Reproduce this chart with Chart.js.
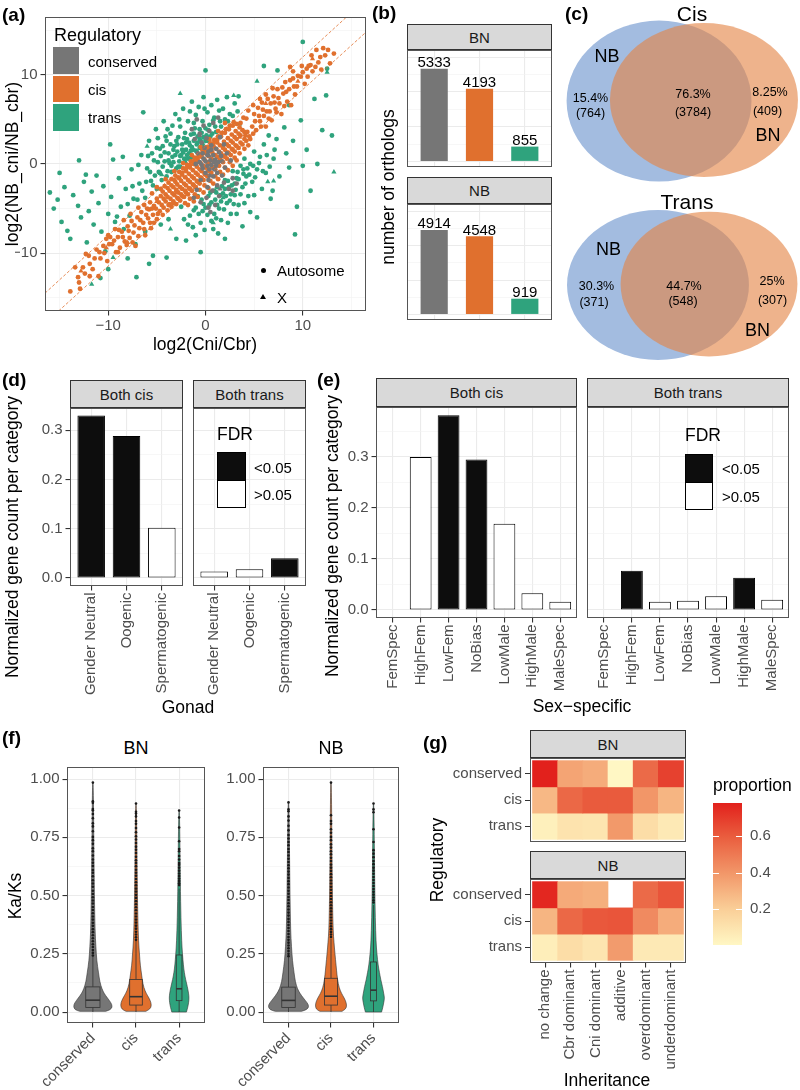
<!DOCTYPE html>
<html>
<head>
<meta charset="utf-8">
<script src="https://cdn.jsdelivr.net/npm/chart.js@4/dist/chart.umd.min.js"></script>
<style>
html, body { margin: 0; padding: 0; background: #fff; }
#fig { position: relative; width: 800px; height: 1090px; overflow: hidden; font-family: 'Liberation Sans', Arial, Helvetica, sans-serif; }
#fig canvas { position: absolute; }
.t { position: absolute; white-space: nowrap; line-height: 1; color: #000; }
.strip { position: absolute; box-sizing: border-box; background: #D9D9D9; border: 1px solid #333; color: #1A1A1A; font-size: 15px; display: flex; align-items: center; justify-content: center; }
.key { position: absolute; box-sizing: border-box; }
</style>
</head>
<body>
<div id="fig"></div>
<script>
// ---------- data ----------

// (a) log2(Cni/Cbr) vs log2(NB_cni/NB_cbr), [x, y]
const conservedAuto = [[0.2,-0.2],[0.5,0.4],[-0.2,0.6],[0.8,1.0],[0.3,1.4],[1.1,1.7],[0.6,2.1],[-0.3,-0.5],[0.0,-1.0],[0.4,-1.3],[0.9,-0.6],[1.3,0.2],[1.6,0.9],[-0.6,0.2],[-0.8,1.2],[-0.4,2.4],[0.1,2.9],[-0.6,3.4],[-0.2,4.3],[0.4,3.7],[-1.1,2.8],[-1.4,3.9],[0.8,4.6],[1.5,3.0],[1.9,2.2],[2.2,1.2],[2.0,-0.4],[1.7,-1.3],[1.9,-2.1],[1.2,-2.4],[0.7,-3.0],[0.2,-2.6],[-0.5,-1.8],[-0.9,-2.9],[-0.5,-4.3],[0.1,-3.8],[0.5,-5.4],[1.0,-4.6],[1.4,-3.6],[2.4,-2.8],[2.8,-1.6],[-1.2,-3.8],[0.3,-4.9],[-0.1,1.8],[1.0,0.5],[0.6,-0.1],[-1.0,0.0],[2.6,0.4],[1.3,5.2],[-0.9,5.0],[1.2,-1.0],[2.8,-3.0],[3.2,-2.2],
  [0.0,0.3],[0.4,-0.6],[0.9,0.2],[1.4,1.3],[0.2,1.0],[-0.4,-0.1],[1.1,-0.2],[0.6,1.6],[-0.3,1.2],[1.7,0.3],[0.3,-1.8],[0.8,-1.4]];
const cisAuto = [[-5.0,-6.2],[-5.8,-5.1],[-6.3,-4.6],[-4.4,-5.7],[-5.1,-5.0],[-5.7,-4.3],[-4.9,-5.6],[-3.9,-5.2],[-4.5,-4.6],[-5.0,-3.9],[-5.5,-3.3],[-3.5,-4.8],[-4.1,-4.2],[-4.6,-3.6],[-3.7,-4.5],[-3.0,-4.5],[-3.6,-3.9],[-4.1,-3.4],[-4.6,-2.8],[-3.3,-4.2],[-2.6,-4.1],[-3.2,-3.5],[-3.7,-3.0],[-4.2,-2.5],[-2.9,-3.8],[-2.2,-3.7],[-2.8,-3.2],[-3.3,-2.6],[-3.8,-2.1],[-2.5,-3.4],[-3.0,-2.9],[-1.8,-3.4],[-2.4,-2.8],[-2.9,-2.3],[-3.5,-1.7],[-2.1,-3.0],[-3.1,-2.0],[-1.4,-3.0],[-2.0,-2.4],[-2.5,-1.9],[-3.1,-1.3],[-1.7,-2.7],[-2.7,-1.6],[-1.0,-2.6],[-1.6,-2.0],[-2.1,-1.5],[-2.7,-0.9],[-1.3,-2.3],[-2.4,-1.2],[-0.6,-2.2],[-1.2,-1.6],[-1.7,-1.1],[-2.3,-0.5],[-0.9,-1.9],[-2.0,-0.8],[-0.2,-1.8],[-0.8,-1.2],[-1.3,-0.7],[-1.9,-0.1],[-0.5,-1.5],[-1.6,-0.4],[0.2,-1.4],[-0.4,-0.8],[-0.9,-0.3],[-1.5,0.3],[-0.1,-1.1],[-1.2,0.0],[0.6,-1.0],[0.0,-0.4],[-0.5,0.1],[-1.1,0.7],[0.3,-0.7],[-0.8,0.4],[1.0,-0.6],[0.4,0.0],[-0.1,0.5],[-0.7,1.1],[0.7,-0.3],[-0.4,0.8],[1.4,-0.2],[0.8,0.4],[0.3,0.9],[-0.3,1.5],[1.1,0.1],[0.0,1.2],[1.8,0.2],[1.2,0.8],[0.7,1.3],[0.1,1.9],[1.5,0.5],[0.4,1.6],[2.2,0.6],[1.6,1.2],[1.1,1.7],[0.5,2.3],[1.9,0.9],[0.8,2.0],[2.6,1.0],[2.0,1.6],[1.5,2.1],[0.9,2.7],[2.3,1.3],[1.2,2.4],[3.0,1.4],[2.4,2.0],[1.9,2.5],[1.3,3.1],[2.7,1.7],[3.4,1.8],[2.8,2.4],[2.3,2.9],[1.7,3.5],[3.1,2.1],[3.8,2.2],[3.2,2.8],[2.7,3.3],[2.1,3.9],[4.2,2.6],[3.6,3.2],[3.1,3.7],[2.5,4.3],[4.5,3.1],[4.0,3.6],[3.5,4.1],[2.9,4.7],
  [-2.1,-4.4],[-1.8,-4.6],[-1.6,-3.9],[-1.2,-4.2],[-1.1,-3.4],[-0.8,-3.7],[-0.6,-2.9],[-0.2,-3.2],[-0.1,-2.4],[0.3,-2.7],[0.5,-1.9],[0.8,-2.2],[1.0,-1.4],[1.3,-1.7],[1.5,-0.9],[1.8,-1.2],[2.0,-0.4],[2.3,-0.7],[2.5,0.2],[2.8,-0.2],[3.0,0.7],[3.2,0.4],[3.5,1.2],[4.0,1.7],[4.4,2.1],
  [-4.1,-1.7],[-3.2,-0.8],[-2.3,0.1],[-1.4,1.0],[-0.5,1.9],[0.4,2.8],[1.3,3.7],[-5.0,-2.6],[2.0,4.6],
  [-4.7,-5.3],[-5.3,-4.7],[-4.3,-4.9],[-4.8,-4.3],[-3.8,-4.6],[-4.3,-3.9],[-3.3,-4.4],[-3.9,-3.7],[-4.4,-3.1],[-2.8,-3.9],[-3.4,-3.3],[-3.9,-2.7],[-2.4,-3.6],[-3.0,-3.1],[-3.5,-2.4],[-2.0,-3.2],[-2.6,-2.6],[-3.2,-1.8],[-1.6,-2.8],[-2.2,-2.2],[-2.8,-1.5],[-1.2,-2.4],[-1.8,-1.8],[-2.4,-1.0],[-0.8,-2.0],[-1.4,-1.4],[-2.0,-0.5],[-0.4,-1.6],[-1.0,-1.0],[-1.6,-0.1],[0.0,-1.2],[-0.6,-0.6],[-1.2,0.3],[0.4,-0.8],[-0.2,-0.2],[-0.8,0.7],[0.8,-0.4],[0.2,0.2],[-0.4,1.1],[1.2,0.0],[0.6,0.6],[0.0,1.5],[1.6,0.4],[1.0,1.0],[0.4,1.9],[2.0,0.8],[1.4,1.4],[0.8,2.3],[2.4,1.2],[1.8,1.8],[1.2,2.7],[2.8,1.6],[2.2,2.2],[1.6,3.1],[3.2,2.0],[2.6,2.6],[2.0,3.5],[3.6,2.4],[3.0,3.0],[2.4,3.9],[4.0,2.8],[3.4,3.4],[2.8,4.3],[3.8,3.8],[3.2,4.5],[4.3,3.6],
  [-9.6,-9.0],[-9.2,-9.9],[-9.0,-8.2],[-8.8,-9.4],[-8.6,-7.6],[-8.3,-8.7],[-8.0,-7.0],[-7.8,-8.3],[-7.6,-6.4],[-7.4,-7.7],[-7.2,-9.2],[-7.0,-6.0],[-6.8,-7.2],[-6.6,-5.4],[-6.4,-6.6],[-6.2,-8.0],[-6.0,-5.0],[-5.9,-6.1],[-5.6,-7.2],[-5.4,-5.7],[-6.9,-4.9],[-7.7,-5.6],[-8.4,-6.3],[-9.3,-7.3],[-10.0,-8.0],
  [-9.8,-8.2],[-9.4,-8.6],[-8.9,-7.4],[-8.5,-8.2],[-8.1,-9.1],[-7.9,-7.5],[-7.5,-8.8],[-7.3,-6.9],[-6.9,-8.1],[-6.7,-6.3],[-6.3,-7.3],[-6.1,-5.7],[-5.7,-6.6],[-5.5,-5.0],[-5.3,-6.6],[-10.4,-10.0],[-10.9,-9.9],[-11.4,-10.6],[-11.9,-11.2],[-12.4,-12.3],[-13.0,-13.3],[-10.2,-8.4],[-9.0,-9.9],
  [4.8,4.2],[5.0,5.6],[5.2,3.8],[5.4,6.3],[5.6,4.8],[5.8,6.9],[6.0,5.4],[6.2,4.2],[6.4,7.3],[6.6,5.9],[6.8,4.9],[7.0,7.6],[7.2,6.2],[7.4,8.4],[7.6,6.8],[7.8,5.6],[8.0,7.9],[8.2,9.2],[8.4,7.0],[8.6,8.4],[8.8,6.6],[9.0,9.6],[9.2,7.8],[4.4,6.0],[3.9,5.2],[4.6,2.8],[3.6,4.6],[4.1,3.2],
  [5.1,4.8],[5.5,5.4],[5.9,6.1],[6.3,5.9],[6.7,6.8],[7.1,6.9],[7.5,7.4],[7.9,8.6],[8.3,8.1],[8.7,9.4],[9.1,8.7],[9.5,9.9],[10.0,10.3],[10.4,10.7],[10.8,11.1],[11.3,10.9],[11.8,12.0],[12.6,12.8],[4.9,3.4],[5.7,4.2],[6.5,5.1],[7.3,5.8],[8.1,6.5],[4.2,5.1],[4.9,6.6],[5.6,7.3],[6.2,7.8],[6.9,8.5],
  [-13.9,-14.3],[-13.1,-12.7],[-12.6,-11.6],[-12.0,-10.3],[-11.6,-11.8],[-11.2,-9.6],[-10.8,-10.6],[-10.5,-9.2],[-10.1,-10.9],[-12.9,-14.0],[-11.9,-12.6],[-13.4,-11.6],[-9.9,-9.0],[-11.0,-12.6],[-12.3,-10.1],
  [13.2,12.4],[12.3,12.2],[11.6,11.4],[11.0,10.4],[10.6,11.0],[10.2,9.0],[9.8,9.8],[9.4,8.7],[12.8,11.3],[11.9,10.6],[10.9,12.2],[9.9,11.0],[12.1,13.0],[10.5,9.8],[11.4,12.8],[9.0,10.4],[8.7,10.9]];
const transAuto = [[-16.0,-3.2],[-15.6,-5.0],[-15.2,-4.0],[-14.8,-6.5],[-14.5,-2.6],[-14.2,-7.5],[-13.9,-8.4],[-13.6,-3.5],[-13.1,-4.7],[-12.8,-6.0],[-12.5,-2.0],[-12.2,-8.8],[-12.0,-5.3],[-11.7,-3.1],[-11.5,-6.8],[-11.2,-1.3],[-11.0,-4.4],[-10.7,-7.6],[-10.5,-2.5],[-10.3,-9.8],[-10.0,-11.8],[-10.0,-5.6],[-9.7,-3.7],[-9.5,0.5],[-9.3,-6.5],[-9.1,-5.9],[-8.9,-1.6],[-8.7,-4.8],[-8.4,-7.3],[-8.2,-2.8],[-8.0,-10.6],[-7.8,-5.8],[-7.6,-0.6],[-7.4,-3.9],[-7.2,-9.0],[-7.1,-12.7],[-10.8,-12.8],[-12.3,-1.2],[-13.0,0.4],[-15.0,-1.0],[-9.8,2.2],[-8.5,0.8],
  [-6.8,-2.2],[-6.6,1.0],[-6.4,5.8],[-6.2,-3.8],[-6.0,-0.5],[-5.8,2.6],[-5.6,-1.9],[-5.4,-10.3],[-5.3,0.4],[-5.1,3.9],[-5.0,-2.8],[-4.8,-0.9],[-4.7,1.7],[-4.5,-1.8],[-4.3,4.8],[-4.2,0.3],[-4.0,-10.5],[-4.0,2.6],[-3.9,-0.8],[-3.8,1.2],[-3.6,3.4],[-3.5,-0.2],[-3.4,0.8],[-3.2,2.0],[-3.1,5.6],[-3.0,-0.5],[-2.9,1.4],[-2.8,3.0],[-2.7,0.3],[-2.6,4.2],[-2.5,1.0],[-2.4,2.2],[-2.3,6.2],[-2.2,0.6],[-2.1,3.5],[-2.0,1.6],[-1.9,2.8],[-1.8,4.8],[-1.7,1.2],[-1.6,2.1],[-1.5,3.3],[-1.4,7.0],[-1.3,1.6],[-1.2,2.6],[-1.1,4.0],[-1.0,5.5],[-0.9,2.2],[-0.8,3.1],[-0.7,6.4],[-0.6,1.8],[-0.5,2.6],[-0.4,3.5],[-0.3,4.8],[-0.2,7.5],[0.0,10.5],[0.1,3.2],[0.2,5.8],[0.4,4.4],[0.6,6.6],[0.9,5.2],[1.2,7.2],[1.5,4.8],[1.8,6.2],[2.2,7.5],[2.5,5.6],[3.0,6.8],[3.4,7.6],[-3.8,-6.2],[-2.0,-8.6],
  [-4.6,0.9],[-4.4,2.0],[-3.7,0.1],[-3.3,1.6],[-3.0,2.6],[-2.6,-0.3],[-2.3,1.3],[-2.0,2.4],[-1.8,0.6],[-1.5,1.5],[-1.2,3.4],[-0.9,1.4],[-0.6,2.8],[-0.3,2.2],[0.0,2.6],[0.3,3.8],[0.7,3.4],[1.0,4.2],[-5.5,1.2],[-4.9,2.9],[-2.7,5.0],[-3.9,3.9],[-1.6,5.9],[-0.1,6.2],[1.4,6.0],[2.0,5.0],
  [-6.5,-3.0],[-6.1,-2.0],[-5.7,-0.9],[-5.4,-2.4],[-5.2,-1.3],[-4.9,0.2],[-4.7,-1.0],[-4.4,-0.3],[-4.2,1.3],[-4.0,-1.4],[-3.8,0.4],[-3.6,2.2],[-3.5,-0.9],[-3.3,0.2],[-3.1,1.0],[-2.9,2.2],[-2.8,-0.3],[-2.6,0.9],[-2.4,1.6],[-2.2,2.9],[-2.1,0.2],[-1.9,1.0],[-1.7,2.4],[-1.5,0.7],[-1.4,1.9],[-1.2,4.6],[-1.0,1.5],[-0.8,2.4],[-0.6,3.9],[-0.4,2.0],[-0.2,3.0],[0.0,4.0],[0.2,2.6],[0.5,3.1],[0.8,4.9],[1.1,3.6],[1.6,4.2],[2.3,4.8],[2.8,5.4],[3.3,5.9],[-7.0,-4.0],[-7.5,-2.5],[-8.0,-4.5],[-6.9,-0.1],[-5.9,0.9],[-5.0,1.8],[-4.1,3.1],[-3.4,4.3],
  [-1.2,-5.2],[-0.8,-3.6],[-0.5,-6.6],[-0.5,-9.9],[-0.2,-4.5],[0.2,-5.7],[0.5,-3.2],[0.8,-7.3],[1.0,-4.0],[1.2,-2.6],[1.4,-5.0],[1.6,-6.3],[1.8,-3.3],[2.0,-1.8],[2.2,-4.4],[2.4,-2.6],[2.6,-5.6],[2.8,-0.8],[3.0,-3.5],[3.2,-1.6],[3.4,-4.6],[3.6,-0.2],[3.8,-2.6],[4.0,0.6],[4.2,-1.4],[4.4,-3.6],[4.6,0.0],[4.8,-2.0],[5.0,1.4],[5.3,-6.0],[5.3,-0.6],[5.6,0.8],[5.8,-2.8],[6.0,2.2],[6.2,-1.0],[6.5,3.2],[6.7,-3.9],[6.9,-3.0],[7.0,0.6],[7.3,2.8],[7.6,-1.4],[8.1,4.1],[8.3,1.2],[8.6,-0.4],[9.0,2.6],[9.4,-4.8],[9.8,4.9],[10.0,-0.2],[10.4,1.6],[10.8,-3.0],[11.2,7.3],[11.5,0.0],[12.0,3.8],[12.4,7.7],[12.5,10.7],[7.4,10.5],[6.0,11.0],[8.6,6.6],[9.2,-7.9],[13.0,3.2],[-1.8,-6.8],[-3.0,-8.4],[-2.5,-4.8],[-4.6,-6.8],[-6.2,-7.6],[-5.8,-11.2],[3.8,-7.0],[2.0,-8.4],[4.6,-5.4],[10.0,13.7],
  [0.4,-4.6],[1.1,-3.2],[1.6,-4.2],[2.0,-2.8],[2.6,-3.4],[3.0,-2.2],[3.3,-0.9],[0.9,-5.6],[1.9,-5.1],[2.9,-4.5],[3.9,-1.1],[4.3,-0.5],[-0.3,-5.3],[0.6,-6.4],[1.3,-7.8],[-1.0,-8.0],
  [-1.6,-5.8],[-1.0,-4.9],[-0.7,-5.6],[-0.4,-4.0],[0.0,-4.9],[0.3,-3.6],[0.6,-4.3],[0.9,-3.0],[1.2,-4.6],[1.5,-3.5],[1.7,-2.5],[2.1,-3.6],[2.3,-1.9],[2.5,-4.1],[2.7,-2.4],[3.1,-2.9],[3.4,-1.7],[3.6,-3.4],[3.9,-0.6],[4.1,-2.2],[4.5,-1.2],[4.9,-0.2],[5.1,-1.5],[5.5,0.1],[5.9,-0.8],[6.3,1.0],[6.6,-0.3],[7.1,1.6],[-0.1,-7.4],[1.1,-6.1],[2.3,-6.6],[3.2,-5.6],[4.0,-4.4],[5.0,-3.5],[-2.2,-6.2],[-1.3,-7.1]];
const conservedX = [[0.4,0.9],[-0.6,3.2],[1.5,-2.8]];
const cisX = [[-12.8,-12.0],[-8.0,-8.8],[-5.0,-4.2],[-2.0,-1.5],[1.0,1.8],[3.5,3.0],[6.2,6.8],[9.5,9.3],[11.0,11.8],[-10.2,-9.4]];
const transX = [[-2.6,7.9],[5.3,9.3],[2.9,7.7],[-3.6,-7.3],[0.8,-6.6],[-11.7,-13.5],[12.5,10.3],[13.2,-0.9],[7.0,-1.9],[-6.0,2.0],[-4.5,-1.2],[1.8,-3.8],[-9.5,-10.5],[3.5,4.5],[6.4,-2.0]];
const cutUpper = [[-16.5,-14.5],[14.5,16.5]];
const cutLower = [[-15.1,-16.5],[16.5,14.8]];

// (b) number of orthologs
const regCats = ['conserved', 'cis', 'trans'];
const orthoBN = [5333, 4193, 855];
const orthoNB = [4914, 4548, 919];

// (c) Venn: [NB only, shared, BN only]
const cisVennPct = ['15.4%', '76.3%', '8.25%'];
const cisVennN = [764, 3784, 409];
const transVennPct = ['30.3%', '44.7%', '25%'];
const transVennN = [371, 548, 307];
// ellipses [cx, cy, rx, ry] for NB and BN
const cisVennShapes = [[-0.226, 0.018, 1.132, 0.985], [0.324, 0.031, 1.151, 0.942]];
const transVennShapes = [[-0.239, 0.0, 1.114, 0.917], [0.386, 0.012, 1.083, 0.886]];

// (d) gonad
const gonadCats = ['Gender Neutral', 'Oogenic', 'Spermatogenic'];
const gonadCis = [0.330, 0.288, 0.102];
const gonadTrans = [0.013, 0.018, 0.040];
const gonadCisSig = [1, 1, 0];
const gonadTransSig = [0, 0, 1];

// (e) sex-specific
const sexCats = ['FemSpec', 'HighFem', 'LowFem', 'NoBias', 'LowMale', 'HighMale', 'MaleSpec'];
const sexCis = [0.001, 0.300, 0.382, 0.295, 0.169, 0.033, 0.016];
const sexTrans = [0.001, 0.077, 0.016, 0.018, 0.027, 0.063, 0.020];
const sexCisSig = [0, 0, 1, 1, 0, 0, 0];
const sexTransSig = [0, 1, 0, 0, 0, 1, 0];

// (f) Ka/Ks violins: y levels, half widths (category units), box [q1, median, q3, lowWhisker, highWhisker], outliers
const bnConsY = [0.003,0.01,0.025,0.04,0.06,0.08,0.10,0.13,0.17,0.22,0.28,0.35,0.50,0.70,0.985];
const bnConsW = [0.30,0.42,0.45,0.42,0.34,0.26,0.21,0.16,0.13,0.09,0.07,0.05,0.035,0.023,0.01];
const bnConsBox = [0.020, 0.051, 0.108, 0.0, 0.24];
const bnConsOut = [0.985,0.905,0.898,0.872,0.866,0.85,0.832,0.81,0.797,0.776,0.752,0.738,0.722,0.703,0.69,0.672,0.655,0.641,0.627,0.61,0.598,0.583,0.566,0.552,0.538,0.521,0.507,0.493,0.479,0.466,0.451,0.438,0.424,0.41,0.397,0.383,0.37,0.356,0.343,0.33,0.317,0.304,0.291,0.279,0.266,0.254,0.243];
const bnCisY = [0.003,0.012,0.03,0.05,0.07,0.09,0.12,0.16,0.20,0.25,0.30,0.40,0.60,0.895];
const bnCisW = [0.23,0.33,0.36,0.33,0.27,0.21,0.16,0.13,0.10,0.08,0.06,0.042,0.026,0.01];
const bnCisBox = [0.030, 0.066, 0.140, 0.0, 0.305];
const bnCisOut = [0.895,0.86,0.852,0.84,0.82,0.808,0.79,0.772,0.755,0.741,0.726,0.71,0.697,0.683,0.667,0.652,0.64,0.626,0.611,0.598,0.585,0.571,0.557,0.544,0.53,0.517,0.503,0.49,0.476,0.463,0.45,0.437,0.423,0.41,0.397,0.384,0.371,0.358,0.345,0.333,0.321,0.31];
const bnTransY = [0.0,0.02,0.04,0.06,0.08,0.11,0.14,0.17,0.20,0.25,0.30,0.40,0.55,0.865];
const bnTransW = [0.17,0.20,0.22,0.23,0.22,0.19,0.15,0.12,0.10,0.077,0.06,0.042,0.028,0.01];
const bnTransBox = [0.049, 0.100, 0.245, 0.0, 0.53];
const bnTransOut = [0.865,0.835,0.792,0.733,0.70,0.69,0.67,0.655,0.64,0.632,0.62,0.607,0.595,0.584,0.573,0.563,0.553,0.545];
const nbConsY = [0.003,0.01,0.025,0.04,0.06,0.08,0.10,0.13,0.17,0.22,0.28,0.35,0.50,0.70,0.90];
const nbConsW = [0.31,0.44,0.48,0.44,0.35,0.27,0.21,0.16,0.13,0.093,0.07,0.05,0.035,0.023,0.01];
const nbConsBox = [0.020, 0.050, 0.107, 0.0, 0.235];
const nbConsOut = [0.9,0.87,0.862,0.84,0.822,0.8,0.78,0.76,0.745,0.73,0.716,0.70,0.687,0.672,0.658,0.644,0.63,0.617,0.603,0.59,0.576,0.562,0.549,0.535,0.521,0.508,0.494,0.481,0.467,0.454,0.44,0.427,0.414,0.4,0.387,0.374,0.361,0.348,0.335,0.322,0.31,0.298,0.286,0.274,0.262,0.25,0.24];
const nbCisY = [0.003,0.012,0.03,0.05,0.07,0.09,0.12,0.16,0.20,0.25,0.30,0.35,0.45,0.65,0.985];
const nbCisW = [0.26,0.35,0.37,0.34,0.28,0.22,0.17,0.14,0.12,0.093,0.07,0.05,0.037,0.023,0.01];
const nbCisBox = [0.030, 0.068, 0.145, 0.0, 0.315];
const nbCisOut = [0.985,0.845,0.82,0.808,0.785,0.77,0.752,0.738,0.72,0.706,0.69,0.677,0.662,0.648,0.633,0.62,0.606,0.592,0.579,0.565,0.552,0.538,0.525,0.511,0.498,0.485,0.471,0.458,0.445,0.432,0.419,0.406,0.393,0.38,0.368,0.356,0.344,0.333,0.322];
const nbTransY = [0.0,0.02,0.04,0.06,0.08,0.11,0.14,0.17,0.20,0.25,0.30,0.40,0.55,0.895];
const nbTransW = [0.19,0.22,0.24,0.26,0.24,0.21,0.17,0.14,0.11,0.08,0.06,0.042,0.028,0.01];
const nbTransBox = [0.048, 0.094, 0.215, 0.0, 0.46];
const nbTransOut = [0.895,0.87,0.858,0.785,0.73,0.695,0.68,0.665,0.648,0.635,0.62,0.607,0.594,0.58,0.567,0.554,0.541,0.528,0.516,0.504,0.492,0.48,0.47];

// (g) proportion heatmap, rows per regulatory class
const inhCats = ['no change', 'Cbr dominant', 'Cni dominant', 'additive', 'overdominant', 'underdominant'];
const heatBNcons = [0.78, 0.35, 0.32, 0.004, 0.55, 0.68];
const heatBNcis = [0.28, 0.56, 0.60, 0.60, 0.40, 0.29];
const heatBNtrans = [0.04, 0.10, 0.09, 0.39, 0.13, 0.07];
const heatNBcons = [0.76, 0.33, 0.31, null, 0.55, 0.62];
const heatNBcis = [0.29, 0.56, 0.61, 0.62, 0.44, 0.32];
const heatNBtrans = [0.05, 0.13, 0.09, 0.38, 0.07, 0.07];
const cbTicks = [0.2, 0.4, 0.6];

// ---------- setup ----------
const FONT = "'Liberation Sans', Arial, Helvetica, sans-serif";
const REG_COL = { conserved: '#767676', cis: '#E0702E', trans: '#2FA37D' };
const VENN_COL = ['rgb(163,188,224)', 'rgba(228,132,70,0.62)'];
const HEAT_STOPS = [[0, [255,247,196]], [0.25, [250,207,152]], [0.5, [242,152,106]], [0.75, [234,96,64]], [1, [226,33,28]]];

Chart.defaults.font.family = FONT;
Chart.defaults.font.size = 15;
Chart.defaults.color = '#4D4D4D';
Chart.defaults.animation = false;
Chart.defaults.responsive = false;
Chart.defaults.maintainAspectRatio = false;
Chart.defaults.events = [];
Chart.defaults.plugins.legend.display = false;
Chart.defaults.plugins.tooltip.enabled = false;

Chart.register({
    id: 'frame',
    defaults: { show: false },
    afterDraw(chart, args, o) {
        if (!o.show) return;
        const c = chart.chartArea, ctx = chart.ctx;
        const l = Math.round(c.left), t = Math.round(c.top), r = Math.round(c.right), b = Math.round(c.bottom);
        ctx.save();
        ctx.strokeStyle = '#555';
        ctx.lineWidth = 1;
        ctx.strokeRect(l + 0.5, t + 0.5, r - l - 1, b - t - 1);
        ctx.restore();
    }
});

Chart.register({
    id: 'barLabels',
    defaults: { show: false },
    afterDatasetsDraw(chart, args, o) {
        if (!o.show) return;
        const ctx = chart.ctx, ds = chart.data.datasets[0];
        ctx.save();
        ctx.font = '15px ' + FONT;
        ctx.fillStyle = '#000';
        ctx.textAlign = 'center';
        ctx.textBaseline = 'alphabetic';
        chart.getDatasetMeta(0).data.forEach((el, i) => {
            ctx.fillText(String(ds.data[i].y), el.x, el.y - 1.5);
        });
        ctx.restore();
    }
});

const fig = document.getElementById('fig');

// canvas box [left, top, w, h] and plot area [l, t, r, b], in page pixels
function panel(box, area, cfg, yRight) {
    const [bl, bt, bw, bh] = box;
    const [al, at, ar, ab] = area;
    const cv = document.createElement('canvas');
    cv.width = bw; cv.height = bh;
    cv.style.left = bl + 'px'; cv.style.top = bt + 'px';
    cv.style.width = bw + 'px'; cv.style.height = bh + 'px';
    fig.appendChild(cv);
    const o = cfg.options;
    o.devicePixelRatio = 1;
    o.layout = { autoPadding: false, padding: { top: at - bt, bottom: 0, left: yRight ? al - bl : 0, right: yRight ? 0 : bl + bw - ar } };
    o.scales.x.afterFit = s => { s.height = bt + bh - ab; s.paddingLeft = 0; s.paddingRight = 0; };
    o.scales.y.afterFit = s => { s.width = yRight ? bl + bw - ar : al - bl; s.paddingTop = 0; s.paddingBottom = 0; };
    if (yRight) o.scales.y.position = 'right';
    return new Chart(cv, cfg);
}

function valAxis(min, max, major, minor, fmt, show, pad) {
    const isMaj = v => major.indexOf(v) >= 0;
    return {
        type: 'linear', min: min, max: max, bounds: 'data',
        afterBuildTicks: s => { s.ticks = major.concat(minor).sort((a, b) => a - b).map(v => ({ value: v })); },
        ticks: { display: show !== false, autoSkip: false, maxRotation: 0, padding: pad == null ? 3 : pad,
                 callback: v => isMaj(v) ? fmt(v) : '' },
        grid: {
            color: c => (c.tick && isMaj(c.tick.value)) ? '#EBEBEB' : '#F2F2F2',
            lineWidth: c => (c.tick && isMaj(c.tick.value)) ? 1.1 : 0.6,
            tickColor: c => (show !== false && c.tick && isMaj(c.tick.value)) ? '#333' : 'rgba(0,0,0,0)',
            tickLength: 4.5
        },
        border: { display: false }
    };
}

function catAxis(cats, rot, showLabels, showTicks, gridOn) {
    const idx = cats.map((c, i) => i + 1);
    return {
        type: 'linear', min: 0.4, max: cats.length + 0.6, bounds: 'data', offset: false,
        afterBuildTicks: s => { s.ticks = idx.map(v => ({ value: v })); },
        ticks: { display: showLabels, autoSkip: false, minRotation: rot, maxRotation: rot, padding: 2,
                 callback: v => cats[Math.round(v) - 1] },
        grid: { offset: false, color: '#EBEBEB', lineWidth: 1.1, drawOnChartArea: gridOn !== false,
                drawTicks: showTicks, tickLength: 4.5, tickColor: '#333' },
        border: { display: false }
    };
}

const xy = p => ({ x: p[0], y: p[1] });
const minus = v => String(v).replace('-', '\u2212');

function dots(arr, color, order, style) {
    return { type: 'scatter', data: arr.map(xy), backgroundColor: color, borderWidth: 0,
             pointStyle: style || 'circle', pointRadius: style ? 3 : 2.4, order: order };
}
function cutLine(arr) {
    return { type: 'line', data: arr.map(xy), borderColor: '#E0702E', borderWidth: 0.8, borderDash: [3, 2],
             pointRadius: 0, fill: false, tension: 0, order: 0 };
}

// ---------- (a) scatter ----------
panel([15, 10, 360, 330], [45, 17, 366, 311], {
    type: 'scatter',
    data: { datasets: [
        cutLine(cutUpper), cutLine(cutLower),
        dots(conservedX, REG_COL.conserved, 1, 'triangle'), dots(conservedAuto, REG_COL.conserved, 1),
        dots(cisX, REG_COL.cis, 2, 'triangle'), dots(cisAuto, REG_COL.cis, 2),
        dots(transX, REG_COL.trans, 3, 'triangle'), dots(transAuto, REG_COL.trans, 3)
    ] },
    options: {
        scales: {
            x: valAxis(-16.5, 16.5, [-10, 0, 10], [-15, -5, 5, 15], minus, true, 1),
            y: valAxis(-16.5, 16.5, [-10, 0, 10], [-15, -5, 5, 15], minus, true, 3)
        },
        plugins: { frame: { show: true } }
    }
});

// ---------- (b) ortholog bars ----------
function orthoFacet(area, vals) {
    return panel([area[0] - 5, area[1] - 4, area[2] - area[0] + 10, area[3] - area[1] + 8], area, {
        type: 'bar',
        data: { datasets: [{ data: vals.map((v, i) => ({ x: i + 1, y: v })), backgroundColor: regCats.map(c => REG_COL[c]),
                              borderWidth: 0, barPercentage: 0.6, categoryPercentage: 1 }] },
        options: {
            scales: { x: catAxis(regCats, 0, false, false), y: valAxis(-320, 6420, [0, 2000, 4000, 6000], [1000, 3000, 5000], v => '', false) },
            plugins: { frame: { show: true }, barLabels: { show: true } }
        }
    });
}
orthoFacet([407, 50, 552, 167], orthoBN);
orthoFacet([407, 204, 552, 320], orthoNB);

// ---------- (c) Venn ----------
function vennChart(box, shapes) {
    const h = box[3] / box[2] * 1.5;
    return panel(box, [box[0], box[1], box[0] + box[2], box[1] + box[3]], {
        type: 'scatter',
        data: { datasets: [{ data: shapes.map(s => ({ x: s[0], y: s[1], rx: s[2], ry: s[3] })), pointRadius: 0 }] },
        options: { scales: { x: { type: 'linear', min: -1.5, max: 1.5, display: false }, y: { type: 'linear', min: -h, max: h, display: false } } },
        plugins: [{
            id: 'venn',
            afterDatasetsDraw(chart) {
                const ctx = chart.ctx, x = chart.scales.x, y = chart.scales.y;
                chart.data.datasets[0].data.forEach((d, i) => {
                    const cx = x.getPixelForValue(d.x), cy = y.getPixelForValue(d.y);
                    const rx = x.getPixelForValue(d.x + d.rx) - cx, ry = cy - y.getPixelForValue(d.y + d.ry);
                    ctx.beginPath();
                    ctx.ellipse(cx, cy, rx, ry, 0, 0, Math.PI * 2);
                    ctx.fillStyle = VENN_COL[i];
                    ctx.fill();
                });
            }
        }]
    });
}
vennChart([555, 15, 245, 175], cisVennShapes);
vennChart([555, 195, 245, 180], transVennShapes);

// ---------- (d), (e) FDR bars ----------
function fdrFacet(box, area, cats, vals, sig, yr, showY) {
    return panel(box, area, {
        type: 'bar',
        data: { datasets: [{ data: vals.map((v, i) => ({ x: i + 1, y: v })), backgroundColor: sig.map(s => s ? '#0D0D0D' : '#FFFFFF'),
                              borderColor: '#000', borderWidth: 1, borderSkipped: false, barPercentage: 0.78, categoryPercentage: 1 }] },
        options: {
            scales: { x: catAxis(cats, 90, true, true), y: valAxis(yr[0], yr[1], [0, 0.1, 0.2, 0.3], yr[2], v => v.toFixed(1), showY) },
            plugins: { frame: { show: true } }
        }
    });
}
const gonadY = [-0.0162, 0.345, [0.05, 0.15, 0.25]];
const sexY = [-0.0157, 0.398, [0.05, 0.15, 0.25, 0.35]];
fdrFacet([28, 400, 160, 300], [70, 408, 183, 586], gonadCats, gonadCis, gonadCisSig, gonadY, true);
fdrFacet([193, 400, 118, 300], [193, 408, 306, 586], gonadCats, gonadTrans, gonadTransSig, gonadY, false);
fdrFacet([328, 400, 252, 300], [376, 407, 577, 618], sexCats, sexCis, sexCisSig, sexY, true);
fdrFacet([587, 400, 206, 300], [587, 407, 789, 618], sexCats, sexTrans, sexTransSig, sexY, false);

// ---------- (f) violins ----------
function drawViolins(chart, groups) {
    const ctx = chart.ctx, ca = chart.chartArea, x = chart.scales.x, y = chart.scales.y;
    ctx.save();
    ctx.beginPath();
    ctx.rect(ca.left, ca.top, ca.right - ca.left, ca.bottom - ca.top);
    ctx.clip();
    groups.forEach(g => {
        const R = g.ys.map((v, i) => [x.getPixelForValue(g.pos + g.ws[i]), y.getPixelForValue(v)]);
        const L = g.ys.map((v, i) => [x.getPixelForValue(g.pos - g.ws[i]), y.getPixelForValue(v)]).reverse();
        const P = R.concat(L);
        ctx.beginPath();
        ctx.moveTo(P[0][0], P[0][1]);
        for (let i = 1; i < P.length - 1; i++) {
            ctx.quadraticCurveTo(P[i][0], P[i][1], (P[i][0] + P[i + 1][0]) / 2, (P[i][1] + P[i + 1][1]) / 2);
        }
        ctx.lineTo(P[P.length - 1][0], P[P.length - 1][1]);
        ctx.closePath();
        ctx.fillStyle = g.color;
        ctx.fill();
        ctx.strokeStyle = '#333';
        ctx.lineWidth = 0.6;
        ctx.stroke();

        const b = g.box, cx = x.getPixelForValue(g.pos);
        const x0 = x.getPixelForValue(g.pos - g.hw), x1 = x.getPixelForValue(g.pos + g.hw);
        const q1 = y.getPixelForValue(b[0]), md = y.getPixelForValue(b[1]), q3 = y.getPixelForValue(b[2]);
        ctx.lineWidth = 0.8;
        ctx.beginPath();
        ctx.moveTo(cx, q3); ctx.lineTo(cx, y.getPixelForValue(b[4]));
        ctx.moveTo(cx, q1); ctx.lineTo(cx, y.getPixelForValue(b[3]));
        ctx.stroke();
        ctx.fillStyle = g.color;
        ctx.fillRect(x0, q3, x1 - x0, q1 - q3);
        ctx.strokeRect(x0, q3, x1 - x0, q1 - q3);
        ctx.lineWidth = 1.6;
        ctx.beginPath();
        ctx.moveTo(x0, md); ctx.lineTo(x1, md);
        ctx.stroke();
    });
    ctx.restore();
}
function violinFacet(box, area, groups) {
    return panel(box, area, {
        type: 'scatter',
        data: { datasets: groups.map(g => ({ data: g.out.map(v => ({ x: g.pos, y: v })), backgroundColor: '#1A1A1A', borderWidth: 0, pointRadius: 1.3 })) },
        options: {
            scales: { x: catAxis(regCats, 45, true, true),
                      y: valAxis(-0.047, 1.052, [0, 0.25, 0.5, 0.75, 1], [0.125, 0.375, 0.625, 0.875], v => v.toFixed(2), true) },
            plugins: { frame: { show: true } }
        },
        plugins: [{ id: 'violin', beforeDatasetsDraw(chart) { drawViolins(chart, groups); } }]
    });
}
const maxN = Math.max(...orthoBN, ...orthoNB);
const boxHW = n => 0.165 * Math.sqrt(n / maxN);
violinFacet([15, 760, 195, 330], [67, 767, 205, 1023], [
    { pos: 1, color: REG_COL.conserved, ys: bnConsY, ws: bnConsW, box: bnConsBox, out: bnConsOut, hw: boxHW(orthoBN[0]) },
    { pos: 2, color: REG_COL.cis, ys: bnCisY, ws: bnCisW, box: bnCisBox, out: bnCisOut, hw: boxHW(orthoBN[1]) },
    { pos: 3, color: REG_COL.trans, ys: bnTransY, ws: bnTransW, box: bnTransBox, out: bnTransOut, hw: boxHW(orthoBN[2]) }
]);
violinFacet([213, 760, 192, 330], [263, 767, 399, 1023], [
    { pos: 1, color: REG_COL.conserved, ys: nbConsY, ws: nbConsW, box: nbConsBox, out: nbConsOut, hw: boxHW(orthoNB[0]) },
    { pos: 2, color: REG_COL.cis, ys: nbCisY, ws: nbCisW, box: nbCisBox, out: nbCisOut, hw: boxHW(orthoNB[1]) },
    { pos: 3, color: REG_COL.trans, ys: nbTransY, ws: nbTransW, box: nbTransBox, out: nbTransOut, hw: boxHW(orthoNB[2]) }
]);

// ---------- (g) heatmap ----------
const allHeat = [].concat(heatBNcons, heatBNcis, heatBNtrans, heatNBcons, heatNBcis, heatNBtrans).filter(v => v !== null);
const cbMin = Math.min(...allHeat), cbMax = Math.max(...allHeat);
function heatColor(v) {
    const t = Math.max(0, Math.min(1, (v - cbMin) / (cbMax - cbMin)));
    for (let i = 1; i < HEAT_STOPS.length; i++) {
        const [t0, c0] = HEAT_STOPS[i - 1], [t1, c1] = HEAT_STOPS[i];
        if (t <= t1) {
            const f = (t - t0) / (t1 - t0);
            return 'rgb(' + c0.map((c, k) => Math.round(c + (c1[k] - c) * f)).join(',') + ')';
        }
    }
    return 'rgb(' + HEAT_STOPS[HEAT_STOPS.length - 1][1].join(',') + ')';
}
function heatFacet(box, area, rows, showX) {
    const xa = catAxis(inhCats, 90, showX, showX, false);
    return panel(box, area, {
        type: 'bar',
        data: { datasets: rows.map((vals, r) => {
            const cells = vals.map((v, i) => ({ v: v, i: i })).filter(c => c.v !== null);
            return { data: cells.map(c => ({ x: c.i + 1, y: [2.5 - r, 3.5 - r] })), backgroundColor: cells.map(c => heatColor(c.v)),
                     borderWidth: 0, barPercentage: 1, categoryPercentage: 1, grouped: false };
        }) },
        options: {
            scales: {
                x: xa,
                y: { type: 'linear', min: 0.4, max: 3.6, bounds: 'data',
                     afterBuildTicks: s => { s.ticks = [1, 2, 3].map(v => ({ value: v })); },
                     ticks: { autoSkip: false, padding: 3, callback: v => regCats[3 - Math.round(v)] },
                     grid: { drawOnChartArea: false, tickLength: 5, tickColor: '#333' }, border: { display: false } }
            },
            plugins: { frame: { show: true } }
        }
    });
}
heatFacet([440, 750, 250, 95], [530, 758, 686, 842], [heatBNcons, heatBNcis, heatBNtrans], false);
heatFacet([440, 870, 250, 205], [530, 879, 686, 963], [heatNBcons, heatNBcis, heatNBtrans], true);

// colour bar
panel([705, 795, 85, 160], [713, 803, 742, 945], {
    type: 'bar',
    data: { datasets: [{ data: [{ x: 1, y: [cbMin, cbMax] }], borderWidth: 0, barPercentage: 1, categoryPercentage: 1, inflateAmount: 0,
        backgroundColor: c => {
            const ch = c.chart, ys = ch.scales.y;
            if (!ch.chartArea || !ys) return '#fff';
            const g = ch.ctx.createLinearGradient(0, ys.getPixelForValue(cbMin), 0, ys.getPixelForValue(cbMax));
            HEAT_STOPS.forEach(s => g.addColorStop(s[0], 'rgb(' + s[1].join(',') + ')'));
            return g;
        } }] },
    options: {
        scales: {
            x: { type: 'linear', min: 0.5, max: 1.5, display: false, afterBuildTicks: s => { s.ticks = [{ value: 1 }]; } },
            y: { type: 'linear', min: cbMin, max: cbMax, bounds: 'data',
                 afterBuildTicks: s => { s.ticks = cbTicks.map(v => ({ value: v })); },
                 ticks: { padding: 8, callback: v => v.toFixed(1) },
                 grid: { display: false, drawTicks: false }, border: { display: false } }
        }
    },
    plugins: [{
        id: 'cbTicks',
        afterDatasetsDraw(chart) {
            const ctx = chart.ctx, ca = chart.chartArea, ys = chart.scales.y;
            ctx.save();
            ctx.strokeStyle = '#fff';
            ctx.lineWidth = 1;
            cbTicks.forEach(v => {
                const py = Math.round(ys.getPixelForValue(v)) + 0.5;
                ctx.beginPath();
                ctx.moveTo(ca.left, py); ctx.lineTo(ca.left + 6, py);
                ctx.moveTo(ca.right - 6, py); ctx.lineTo(ca.right, py);
                ctx.stroke();
            });
            ctx.restore();
        }
    }]
}, true);

// ---------- text, strips, legends ----------
function T(s, x, y, o) {
    o = o || {};
    const d = document.createElement('div');
    d.className = 't';
    d.textContent = s;
    d.style.left = x + 'px';
    d.style.top = y + 'px';
    d.style.fontSize = (o.size || 15) + 'px';
    if (o.bold) d.style.fontWeight = 'bold';
    if (o.color) d.style.color = o.color;
    d.style.transform = 'translate(' + (o.left ? '0' : '-50%') + ',-50%)' + (o.rot ? ' rotate(' + o.rot + 'deg)' : '');
    fig.appendChild(d);
}
function strip(x1, y1, x2, y2, label) {
    const d = document.createElement('div');
    d.className = 'strip';
    d.style.left = x1 + 'px'; d.style.top = y1 + 'px';
    d.style.width = (x2 - x1) + 'px'; d.style.height = (y2 - y1) + 'px';
    d.textContent = label;
    fig.appendChild(d);
}
function keyBox(x, y, w, h, bg, border) {
    const d = document.createElement('div');
    d.className = 'key';
    d.style.left = x + 'px'; d.style.top = y + 'px';
    d.style.width = w + 'px'; d.style.height = h + 'px';
    d.style.background = bg;
    if (border) d.style.border = '1.5px solid ' + border;
    fig.appendChild(d);
}
const TITLE = 17.5;

// (a)
T('(a)', 2, 14, { size: 19, bold: true, left: true });
T('Regulatory', 54, 35, { size: 18, left: true });
regCats.forEach((c, i) => {
    keyBox(53, 47 + i * 28.5, 26, 26.5, REG_COL[c]);
    T(c, 88, 60.5 + i * 28.3, { left: true });
});
(function () {
    const dot = document.createElement('div');
    dot.style.cssText = 'position:absolute;left:260.5px;top:267.5px;width:5px;height:5px;border-radius:50%;background:#000;';
    fig.appendChild(dot);
    const tri = document.createElement('div');
    tri.style.cssText = 'position:absolute;left:260px;top:294px;width:0;height:0;border-left:3px solid transparent;border-right:3px solid transparent;border-bottom:5.5px solid #000;';
    fig.appendChild(tri);
})();
T('Autosome', 277, 270, { left: true });
T('X', 277, 297, { left: true });
T('log2(Cni/Cbr)', 205, 345, { size: TITLE });
T('log2(NB_cni/NB_cbr)', 13, 164, { size: TITLE, rot: -90 });

// (b)
T('(b)', 372, 12, { size: 19, bold: true, left: true });
strip(407, 24, 552, 50, 'BN');
strip(407, 177, 552, 204, 'NB');
T('number of orthologs', 389, 187, { size: TITLE, rot: -90 });

// (c)
T('(c)', 565, 12.5, { size: 19, bold: true, left: true });
T('Cis', 692, 13, { size: 21 });
T('Trans', 687, 200.5, { size: 21 });
const cisPctPos = [[590.5, 97.5], [693, 94], [770, 92]], cisNPos = [[590.5, 112.5], [693, 112], [767.5, 110.5]];
const transPctPos = [[596.5, 286], [684, 286], [772, 281]], transNPos = [[594, 301.5], [683, 300.5], [772.5, 300]];
cisVennPct.forEach((p, i) => { T(p, cisPctPos[i][0], cisPctPos[i][1], { size: 12.5 }); T('(' + cisVennN[i] + ')', cisNPos[i][0], cisNPos[i][1], { size: 12.5 }); });
transVennPct.forEach((p, i) => { T(p, transPctPos[i][0], transPctPos[i][1], { size: 12.5 }); T('(' + transVennN[i] + ')', transNPos[i][0], transNPos[i][1], { size: 12.5 }); });
T('NB', 607, 56, { size: 18 });
T('BN', 768, 135, { size: 18 });
T('NB', 608.5, 248.5, { size: 18 });
T('BN', 757.5, 329.5, { size: 18 });

// (d)
T('(d)', 2, 379, { size: 19, bold: true, left: true });
strip(70, 380, 183, 408, 'Both cis');
strip(193, 380, 306, 408, 'Both trans');
T('Normalized gene count per category', 13, 537, { size: TITLE, rot: -90 });
T('Gonad', 188, 708, { size: TITLE });
T('FDR', 217, 435, { size: TITLE, left: true });
keyBox(217, 452, 28.5, 29.5, '#0D0D0D', '#000');
keyBox(217, 480, 28.5, 28, '#FFFFFF', '#000');
T('<0.05', 254, 467, { left: true });
T('>0.05', 254, 494, { left: true });

// (e)
T('(e)', 317, 378.5, { size: 19, bold: true, left: true });
strip(376, 378, 577, 407, 'Both cis');
strip(587, 378, 789, 407, 'Both trans');
T('Normalized gene count per category', 333, 536, { size: TITLE, rot: -90 });
T('Sex\u2212specific', 582, 707, { size: TITLE });
T('FDR', 685, 436, { size: TITLE, left: true });
keyBox(685, 454, 28, 29, '#0D0D0D', '#000');
keyBox(685, 481.5, 28, 28, '#FFFFFF', '#000');
T('<0.05', 722, 468, { left: true });
T('>0.05', 722, 496, { left: true });

// (f)
T('(f)', 2, 737, { size: 19, bold: true, left: true });
T('BN', 136, 748, { size: 18 });
T('NB', 331, 748, { size: 18 });
T('Ka/Ks', 16, 896, { size: TITLE, rot: -90 });

// (g)
T('(g)', 423, 742, { size: 19, bold: true, left: true });
strip(530, 730, 686, 758, 'BN');
strip(530, 851, 686, 879, 'NB');
T('Regulatory', 438, 860, { size: TITLE, rot: -90 });
T('Inheritance', 607, 1081, { size: TITLE });
T('proportion', 713, 786, { size: TITLE, left: true });
</script>
</body>
</html>
